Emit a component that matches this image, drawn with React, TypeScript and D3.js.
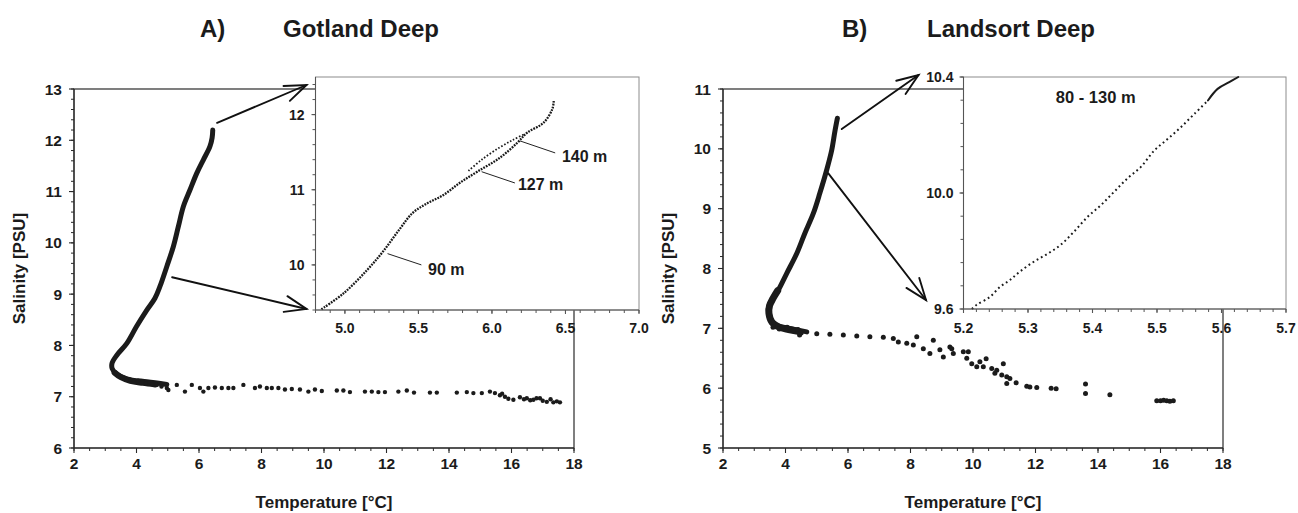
import React from 'react';
import * as d3 from 'd3';

type P = [number, number];

// ---------- Panel A: Gotland Deep (temperature °C, salinity PSU) ----------
const gotlandCurve: P[] = [
  [6.44, 12.2], [6.42, 12.05], [6.35, 11.88], [6.14, 11.62], [5.93, 11.36], [5.71, 11.03],
  [5.5, 10.71], [5.34, 10.32], [5.18, 9.93], [4.97, 9.54], [4.75, 9.15], [4.59, 8.92],
  [4.33, 8.69], [4.0, 8.37], [3.69, 8.04], [3.37, 7.81], [3.22, 7.66], [3.22, 7.55],
  [3.35, 7.45], [3.69, 7.35], [4.33, 7.29], [4.97, 7.24],
];
const gotlandBend: P[] = [[3.3, 7.47], [3.5, 7.38], [3.8, 7.31], [4.2, 7.27], [4.6, 7.24]];
const gotlandScatter: P[] = [
  [3.8, 7.33], [4.05, 7.31], [4.3, 7.26], [4.5, 7.24], [4.65, 7.23], [4.8, 7.2], [4.97, 7.17],
  [5.02, 7.13], [5.29, 7.23], [5.55, 7.1], [5.77, 7.23], [6.03, 7.17], [6.14, 7.1], [6.3, 7.17],
  [6.51, 7.18], [6.73, 7.17], [6.94, 7.17], [7.1, 7.17], [7.42, 7.23], [7.79, 7.17],
  [7.95, 7.2], [8.17, 7.17], [8.33, 7.17], [8.54, 7.17], [8.75, 7.14], [8.97, 7.15],
  [9.23, 7.14], [9.5, 7.1], [9.71, 7.14], [9.93, 7.11], [10.41, 7.12], [10.62, 7.12],
  [10.83, 7.09], [11.31, 7.1], [11.53, 7.1], [11.74, 7.09], [11.95, 7.09], [12.38, 7.1],
  [12.65, 7.12], [12.88, 7.08], [13.39, 7.08], [13.61, 7.08], [14.25, 7.08], [14.57, 7.09],
  [14.78, 7.07], [15.05, 7.07], [15.31, 7.1], [15.47, 7.07], [15.63, 7.03], [15.79, 7.0],
  [15.7, 7.06], [15.9, 6.96], [16.06, 6.94], [16.27, 6.99], [16.4, 6.95], [16.49, 6.97],
  [16.6, 6.93], [16.7, 6.94], [16.8, 6.97], [16.91, 6.97], [17.0, 6.92], [17.13, 6.9],
  [17.25, 6.95], [17.34, 6.89], [17.45, 6.91], [17.55, 6.89],
];
const gotlandInset: P[] = [
  [4.84, 9.41], [4.99, 9.62], [5.15, 9.93], [5.26, 10.18], [5.37, 10.47], [5.46, 10.69],
  [5.56, 10.82], [5.67, 10.93], [5.78, 11.09], [5.9, 11.24], [6.05, 11.42], [6.17, 11.62],
  [6.24, 11.76], [6.35, 11.89], [6.41, 12.07], [6.42, 12.18],
];
const gotlandInsetUpper: P[] = [
  [5.84, 11.25], [5.93, 11.4], [6.05, 11.56], [6.14, 11.66], [6.22, 11.74],
];
// depth annotations: curve point, leader end, text baseline position (T, S)
const gotlandDepthLabels = ['140 m', '127 m', '90 m'];
const gotlandDepthFrom: P[] = [[6.19, 11.65], [5.93, 11.24], [5.29, 10.15]];
const gotlandDepthTo: P[] = [[6.43, 11.49], [6.156, 11.09], [5.52, 10.0]];
const gotlandDepthText: P[] = [[6.476, 11.37], [6.177, 11.0], [5.565, 9.87]];

// ---------- Panel B: Landsort Deep ----------
const landsortCurve: P[] = [
  [5.66, 10.51], [5.58, 10.29], [5.48, 9.98], [5.32, 9.65], [5.1, 9.26], [4.89, 8.92],
  [4.62, 8.59], [4.36, 8.25], [4.04, 7.92], [3.77, 7.64], [3.56, 7.47], [3.45, 7.33],
  [3.5, 7.17], [3.72, 7.05], [4.14, 7.0], [4.68, 6.94],
];
const landsortBend: P[] = [
  [3.75, 7.63], [3.6, 7.5], [3.49, 7.38], [3.47, 7.25], [3.57, 7.1], [3.8, 7.02], [4.1, 6.98], [4.4, 6.95],
];
const landsortScatter: P[] = [
  [3.6, 7.02], [3.8, 6.99], [4.05, 7.02], [4.25, 6.96], [4.4, 6.98], [4.5, 6.92], [4.45, 6.89],
  [5.0, 6.91], [5.42, 6.9], [5.85, 6.89], [6.28, 6.87], [6.7, 6.86], [7.13, 6.85],
  [7.45, 6.83], [7.61, 6.77], [7.88, 6.75], [8.09, 6.72], [8.2, 6.86], [8.41, 6.66],
  [8.62, 6.58], [8.73, 6.8], [8.94, 6.64], [9.05, 6.52], [9.26, 6.69], [9.32, 6.66],
  [9.37, 6.58], [9.69, 6.61], [9.85, 6.61], [9.8, 6.5], [9.96, 6.41], [10.12, 6.36],
  [10.22, 6.44], [10.33, 6.36], [10.42, 6.49], [10.6, 6.33], [10.76, 6.3], [10.7, 6.25],
  [10.97, 6.41], [10.92, 6.22], [11.08, 6.19], [11.18, 6.16], [11.08, 6.08], [11.38, 6.09],
  [11.72, 6.03], [11.82, 6.02], [12.04, 6.01], [12.5, 6.0], [12.66, 5.99], [13.6, 6.07],
  [13.6, 5.91], [14.38, 5.89], [15.88, 5.79], [16.0, 5.79], [16.1, 5.8], [16.2, 5.79],
  [16.3, 5.78], [16.41, 5.79],
];
const landsortInset: P[] = [
  [5.213, 9.6], [5.22, 9.614], [5.24, 9.64], [5.257, 9.677], [5.272, 9.7], [5.288, 9.73],
  [5.309, 9.763], [5.33, 9.79], [5.35, 9.82], [5.371, 9.866], [5.392, 9.917], [5.413, 9.958],
  [5.433, 10.003], [5.454, 10.05], [5.475, 10.09], [5.496, 10.147], [5.517, 10.187],
  [5.537, 10.227], [5.558, 10.273], [5.579, 10.319],
];
const landsortInsetTop: P[] = [[5.579, 10.319], [5.594, 10.359], [5.612, 10.382], [5.626, 10.4]];
const landsortInsetLabel = '80 - 130 m';

// ---------- axes ----------
const mainXTicks = [2, 4, 6, 8, 10, 12, 14, 16, 18];
const gotlandYTicks = [6, 7, 8, 9, 10, 11, 12, 13];
const landsortYTicks = [5, 6, 7, 8, 9, 10, 11];
const gotlandInsetXTicks = [5.0, 5.5, 6.0, 6.5, 7.0];
const gotlandInsetYTicks = [10, 11, 12];
const landsortInsetXTicks = [5.2, 5.3, 5.4, 5.5, 5.6, 5.7];
const landsortInsetYTicks = [9.6, 10.0, 10.4];

const FONT = "'Liberation Sans', Arial, Helvetica, sans-serif";
const INK = '#1b1b1b';

function steps(d0: number, d1: number, step: number): number[] {
  const lo = Math.min(d0, d1), hi = Math.max(d0, d1);
  const n = Math.round((hi - lo) / step);
  const out: number[] = [];
  for (let i = 0; i <= n; i++) out.push(+(lo + i * step).toFixed(6));
  return out;
}

type Lin = d3.ScaleLinear<number, number>;

function LeftAxis({ y, x0, majors, minorStep, fmt, size, gap, color, maj = 5, min = 3 }: any) {
  const [d0, d1] = (y as Lin).domain();
  return (
    <g>
      <line x1={x0} x2={x0} y1={y(d0)} y2={y(d1)} stroke={color} strokeWidth={1.1} />
      {steps(d0, d1, minorStep).map((v) => (
        <line key={'m' + v} x1={x0 - min} x2={x0} y1={y(v)} y2={y(v)} stroke={color} strokeWidth={1} />
      ))}
      {majors.map((v: number) => (
        <line key={'M' + v} x1={x0 - maj} x2={x0} y1={y(v)} y2={y(v)} stroke={color} strokeWidth={1.1} />
      ))}
      {majors.map((v: number) => (
        <text key={'t' + v} x={x0 - gap} y={y(v)} dy="0.36em" textAnchor="end"
          fontFamily={FONT} fontWeight="bold" fontSize={size} fill={INK}>{fmt(v)}</text>
      ))}
    </g>
  );
}

function BottomAxis({ x, y0, majors, minorStep, fmt, size, base, color, maj = 5, min = 3 }: any) {
  const [d0, d1] = (x as Lin).domain();
  return (
    <g>
      <line x1={x(d0)} x2={x(d1)} y1={y0} y2={y0} stroke={color} strokeWidth={1.1} />
      {steps(d0, d1, minorStep).map((v) => (
        <line key={'m' + v} x1={x(v)} x2={x(v)} y1={y0} y2={y0 + min} stroke={color} strokeWidth={1} />
      ))}
      {majors.map((v: number) => (
        <line key={'M' + v} x1={x(v)} x2={x(v)} y1={y0} y2={y0 + maj} stroke={color} strokeWidth={1.1} />
      ))}
      {majors.map((v: number) => (
        <text key={'t' + v} x={x(v)} y={base} textAnchor="middle"
          fontFamily={FONT} fontWeight="bold" fontSize={size} fill={INK}>{fmt(v)}</text>
      ))}
    </g>
  );
}

function Arrow({ x1, y1, x2, y2 }: { x1: number; y1: number; x2: number; y2: number }) {
  const a = Math.atan2(y2 - y1, x2 - x1);
  const L = 23, h = 0.36;
  const b1 = [x2 - L * Math.cos(a - h), y2 - L * Math.sin(a - h)];
  const b2 = [x2 - L * Math.cos(a + h), y2 - L * Math.sin(a + h)];
  return (
    <g stroke="#111" strokeWidth={1.9} fill="none" strokeLinecap="round">
      <line x1={x1} y1={y1} x2={x2} y2={y2} />
      <polyline points={`${b1[0]},${b1[1]} ${x2},${y2} ${b2[0]},${b2[1]}`} />
    </g>
  );
}

export default function App() {
  // Panel A scales
  const ax = d3.scaleLinear().domain([2, 18]).range([74, 574]);
  const ay = d3.scaleLinear().domain([6, 13]).range([448, 89]);
  const aix = d3.scaleLinear().domain([4.8, 7.0]).range([315.5, 639]);
  const aiy = d3.scaleLinear().domain([9.4, 12.5]).range([310, 77]);
  // Panel B scales
  const bx = d3.scaleLinear().domain([2, 18]).range([723, 1223]);
  const by = d3.scaleLinear().domain([5, 11]).range([448, 89]);
  const bix = d3.scaleLinear().domain([5.2, 5.7]).range([963.5, 1286]);
  const biy = d3.scaleLinear().domain([9.6, 10.4]).range([309, 77]);

  const lineOf = (sx: Lin, sy: Lin, curve: any = d3.curveCatmullRom) =>
    d3.line<P>().x((d) => sx(d[0])).y((d) => sy(d[1])).curve(curve);

  const f0 = (v: number) => d3.format('d')(v);
  const f1 = (v: number) => d3.format('.1f')(v);

  const mainColor = '#2a2a2a';
  const insetAxisColor = '#555';
  const insetFrame = '#8c8c8c';
  const TITLE = 24;
  const TICK = 15.5;
  const AXT = 17;

  return (
    <svg width={1298} height={513} style={{ position: 'absolute', left: 0, top: 0, display: 'block', background: '#fff' }}>
      <rect x={0} y={0} width={1298} height={513} fill="#fff" />

      {/* ================= Panel A ================= */}
      <text x={200} y={37} fontFamily={FONT} fontWeight="bold" fontSize={TITLE} fill={INK}>A)</text>
      <text x={283} y={37} fontFamily={FONT} fontWeight="bold" fontSize={TITLE} fill={INK}>Gotland Deep</text>

      <rect x={ax(2)} y={ay(13)} width={ax(18) - ax(2)} height={ay(6) - ay(13)} fill="none" stroke={mainColor} strokeWidth={1.2} />
      <path d={lineOf(ax, ay)(gotlandCurve) || ''} fill="none" stroke={INK} strokeWidth={5} strokeLinecap="round" strokeLinejoin="round" />
      <path d={lineOf(ax, ay)(gotlandBend) || ''} fill="none" stroke={INK} strokeWidth={6} strokeLinecap="round" />
      {gotlandScatter.map((d, i) => (
        <circle key={'ga' + i} cx={ax(d[0])} cy={ay(d[1])} r={2.2} fill={INK} />
      ))}
      <LeftAxis y={ay} x0={ax(2)} majors={gotlandYTicks} minorStep={0.2} fmt={f0} size={TICK} gap={12} color={mainColor} />
      <BottomAxis x={ax} y0={ay(6)} majors={mainXTicks} minorStep={0.5} fmt={f0} size={TICK} base={469} color={mainColor} />
      <text transform={`translate(24.5,${(ay(6) + ay(13)) / 2}) rotate(-90)`} textAnchor="middle"
        fontFamily={FONT} fontWeight="bold" fontSize={AXT} fill={INK}>Salinity [PSU]</text>
      <text x={(ax(2) + ax(18)) / 2} y={508} textAnchor="middle"
        fontFamily={FONT} fontWeight="bold" fontSize={AXT} fill={INK}>Temperature [°C]</text>

      <Arrow x1={ax(6.58)} y1={ay(12.34)} x2={aix(4.8) - 9} y2={aiy(12.5) + 8} />
      <Arrow x1={ax(5.14)} y1={ay(9.33)} x2={aix(4.8) - 9} y2={aiy(9.4) - 1} />

      {/* Inset A */}
      <rect x={aix(4.8)} y={aiy(12.5)} width={aix(7.0) - aix(4.8)} height={aiy(9.4) - aiy(12.5)} fill="#fff" stroke={insetFrame} strokeWidth={1} />
      <path d={lineOf(aix, aiy)(gotlandInset) || ''} fill="none" stroke={INK} strokeWidth={2.3} strokeDasharray="1.8 1.1" />
      <path d={lineOf(aix, aiy)(gotlandInsetUpper) || ''} fill="none" stroke={INK} strokeWidth={1.8} strokeDasharray="1.6 1.8" />
      <LeftAxis y={aiy} x0={aix(4.8)} majors={gotlandInsetYTicks} minorStep={0.2} fmt={f0} size={14} gap={11} color={insetAxisColor} maj={4} min={3} />
      <BottomAxis x={aix} y0={aiy(9.4)} majors={gotlandInsetXTicks} minorStep={0.1} fmt={f1} size={14} base={333} color={insetAxisColor} maj={4} min={3} />
      {gotlandDepthLabels.map((lab, i) => (
        <g key={'gl' + i}>
          <line x1={aix(gotlandDepthFrom[i][0])} y1={aiy(gotlandDepthFrom[i][1])}
            x2={aix(gotlandDepthTo[i][0])} y2={aiy(gotlandDepthTo[i][1])} stroke="#222" strokeWidth={1} />
          <text x={aix(gotlandDepthText[i][0])} y={aiy(gotlandDepthText[i][1])}
            fontFamily={FONT} fontWeight="bold" fontSize={16} fill={INK}>{lab}</text>
        </g>
      ))}

      {/* ================= Panel B ================= */}
      <text x={842} y={37} fontFamily={FONT} fontWeight="bold" fontSize={TITLE} fill={INK}>B)</text>
      <text x={927} y={37} fontFamily={FONT} fontWeight="bold" fontSize={TITLE} fill={INK}>Landsort Deep</text>

      <rect x={bx(2)} y={by(11)} width={bx(18) - bx(2)} height={by(5) - by(11)} fill="none" stroke={mainColor} strokeWidth={1.2} />
      <path d={lineOf(bx, by)(landsortCurve) || ''} fill="none" stroke={INK} strokeWidth={5} strokeLinecap="round" strokeLinejoin="round" />
      <path d={lineOf(bx, by)(landsortBend) || ''} fill="none" stroke={INK} strokeWidth={7} strokeLinecap="round" strokeLinejoin="round" />
      {landsortScatter.map((d, i) => (
        <circle key={'lb' + i} cx={bx(d[0])} cy={by(d[1])} r={2.5} fill={INK} />
      ))}
      <LeftAxis y={by} x0={bx(2)} majors={landsortYTicks} minorStep={0.2} fmt={f0} size={TICK} gap={12} color={mainColor} />
      <BottomAxis x={bx} y0={by(5)} majors={mainXTicks} minorStep={0.5} fmt={f0} size={TICK} base={469} color={mainColor} />
      <text transform={`translate(674,${(by(5) + by(11)) / 2}) rotate(-90)`} textAnchor="middle"
        fontFamily={FONT} fontWeight="bold" fontSize={AXT} fill={INK}>Salinity [PSU]</text>
      <text x={(bx(2) + bx(18)) / 2} y={508} textAnchor="middle"
        fontFamily={FONT} fontWeight="bold" fontSize={AXT} fill={INK}>Temperature [°C]</text>

      <Arrow x1={bx(5.8)} y1={by(10.33)} x2={bix(5.2) - 45} y2={biy(10.4) - 2} />
      <Arrow x1={bx(5.37)} y1={by(9.59)} x2={bix(5.2) - 37.5} y2={biy(9.6) - 9} />

      {/* Inset B */}
      <rect x={bix(5.2)} y={biy(10.4)} width={bix(5.7) - bix(5.2)} height={biy(9.6) - biy(10.4)} fill="#fff" stroke={insetFrame} strokeWidth={1} />
      <path d={lineOf(bix, biy)(landsortInset) || ''} fill="none" stroke={INK} strokeWidth={2} strokeDasharray="1.8 3" />
      <path d={lineOf(bix, biy)(landsortInsetTop) || ''} fill="none" stroke={INK} strokeWidth={2} strokeLinecap="round" />
      <LeftAxis y={biy} x0={bix(5.2)} majors={landsortInsetYTicks} minorStep={0.08} fmt={f1} size={14} gap={10} color={insetAxisColor} maj={4} min={3} />
      <BottomAxis x={bix} y0={biy(9.6)} majors={landsortInsetXTicks} minorStep={0.02} fmt={f1} size={14} base={333} color={insetAxisColor} maj={4} min={3} />
      <text x={(bix(5.2) + bix(5.7)) / 2 - 29} y={103} textAnchor="middle"
        fontFamily={FONT} fontWeight="bold" fontSize={16.5} fill={INK}>{landsortInsetLabel}</text>
    </svg>
  );
}
